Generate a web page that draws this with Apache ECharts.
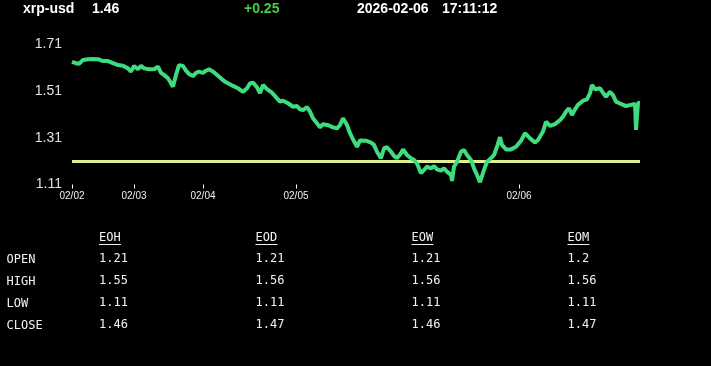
<!DOCTYPE html>
<html>
<head>
<meta charset="utf-8">
<script src="https://cdn.jsdelivr.net/npm/echarts@6/dist/echarts.min.js"></script>
<style>
html,body{margin:0;padding:0;background:#000;}
#chart{width:711px;height:366px;}
</style>
</head>
<body>
<div id="chart"></div>
<script>
// ---- header ----
var symbolName = 'xrp-usd';
var lastPrice = '1.46';
var changeText = '+0.25';
var dateText = '2026-02-06';
var timeText = '17:11:12';

// ---- x axis (sample index) and day labels ----
var dayLabels = ['02/02', '02/03', '02/04', '02/05', '02/06'];
var dayStarts = [0, 62, 131, 224, 447];
var lastSample = 568;

// ---- y axis ticks ----
var yTicks = [1.11, 1.31, 1.51, 1.71];

// ---- price series ----
var sampleX = [0,4,7,11,16,21,26,31,36,41,46,51,56,59,62,66,69,72,77,82,86,89,92,96,99,101,104,107,111,114,117,121,124,127,131,134,137,141,144,146,150,153,156,161,166,171,175,178,181,185,188,191,195,200,205,208,211,216,221,225,228,231,235,238,241,245,248,251,255,258,261,265,268,271,275,278,281,285,288,294,299,302,305,309,312,315,319,322,325,329,331,335,339,342,345,349,352,355,359,362,365,369,372,375,379,380,382,385,389,392,395,399,402,405,408,412,415,419,422,425,428,430,434,439,444,449,453,458,463,466,471,474,478,483,488,491,494,497,500,503,506,511,515,518,520,523,528,531,534,538,541,544,549,554,559,563,564,566,568];
var price = [1.634,1.628,1.625,1.642,1.645,1.646,1.645,1.637,1.637,1.628,1.620,1.617,1.606,1.592,1.616,1.602,1.617,1.606,1.602,1.602,1.613,1.587,1.578,1.564,1.542,1.528,1.578,1.620,1.616,1.596,1.582,1.573,1.587,1.592,1.587,1.596,1.602,1.592,1.582,1.578,1.559,1.549,1.542,1.531,1.521,1.506,1.521,1.542,1.545,1.525,1.500,1.535,1.517,1.502,1.478,1.464,1.468,1.457,1.442,1.445,1.431,1.428,1.440,1.421,1.393,1.371,1.354,1.368,1.364,1.360,1.354,1.350,1.364,1.393,1.364,1.329,1.303,1.271,1.298,1.297,1.289,1.279,1.250,1.222,1.265,1.269,1.250,1.232,1.222,1.243,1.260,1.236,1.222,1.215,1.200,1.158,1.172,1.186,1.179,1.189,1.175,1.169,1.179,1.165,1.151,1.125,1.186,1.207,1.250,1.257,1.236,1.215,1.179,1.151,1.120,1.172,1.207,1.222,1.236,1.271,1.312,1.279,1.260,1.260,1.271,1.297,1.329,1.307,1.289,1.300,1.336,1.378,1.360,1.368,1.385,1.400,1.421,1.435,1.407,1.431,1.450,1.468,1.474,1.500,1.535,1.517,1.521,1.502,1.485,1.506,1.492,1.464,1.454,1.445,1.450,1.454,1.343,1.459,1.458];

// ---- reference (open) line ----
var openLevel = 1.21;

// ---- table ----
var rowLabels = ['OPEN', 'HIGH', 'LOW', 'CLOSE'];
var colHeaders = ['EOH', 'EOD', 'EOW', 'EOM'];
var eohValues = ['1.21', '1.55', '1.11', '1.46'];
var eodValues = ['1.21', '1.56', '1.11', '1.47'];
var eowValues = ['1.21', '1.56', '1.11', '1.46'];
var eomValues = ['1.2', '1.56', '1.11', '1.47'];
var colValues = [eohValues, eodValues, eowValues, eomValues];

var lineData = sampleX.map(function (x, i) { return [x, price[i]]; });

var headFont = 'bold 14px "Liberation Sans", Arial, sans-serif';
var monoFont = '12px "DejaVu Sans Mono", "Liberation Mono", monospace';

var graphics = [
  {type: 'text', x: 23, y: 9.5, style: {text: symbolName, fill: '#ffffff', font: headFont, verticalAlign: 'middle'}},
  {type: 'text', x: 92, y: 9.5, style: {text: lastPrice, fill: '#ffffff', font: headFont, verticalAlign: 'middle'}},
  {type: 'text', x: 244, y: 9.5, style: {text: changeText, fill: '#3fcf3f', font: headFont, verticalAlign: 'middle'}},
  {type: 'text', x: 357, y: 9.5, style: {text: dateText, fill: '#ffffff', font: headFont, verticalAlign: 'middle'}},
  {type: 'text', x: 442, y: 9.5, style: {text: timeText, fill: '#ffffff', font: headFont, verticalAlign: 'middle'}}
];

var colX = [99, 255.5, 411.5, 567.5];
var rowY = [259, 280.5, 302.5, 324.5];
var textColor = '#f2f2f2';

rowLabels.forEach(function (lab, r) {
  graphics.push({type: 'text', x: 6.5, y: rowY[r] + 1, style: {text: lab, fill: textColor, font: monoFont, verticalAlign: 'middle'}});
});
colHeaders.forEach(function (h, c) {
  graphics.push({type: 'text', x: colX[c], y: 238, style: {text: h, fill: textColor, font: monoFont, verticalAlign: 'middle'}});
  graphics.push({type: 'line', shape: {x1: colX[c], y1: 244.5, x2: colX[c] + h.length * 7.3, y2: 244.5}, style: {stroke: textColor, lineWidth: 1}});
  colValues[c].forEach(function (v, r) {
    graphics.push({type: 'text', x: colX[c], y: rowY[r], style: {text: v, fill: textColor, font: monoFont, verticalAlign: 'middle'}});
  });
});

var chart = echarts.init(document.getElementById('chart'), null, {renderer: 'canvas'});
chart.setOption({
  backgroundColor: '#000000',
  animation: false,
  grid: {left: 72, right: 71, top: 44, bottom: 181.5, containLabel: false},
  xAxis: {
    type: 'value',
    min: 0,
    max: lastSample,
    axisLine: {show: false},
    splitLine: {show: false},
    axisTick: {show: true, customValues: dayStarts, length: 4, lineStyle: {color: '#ffffff', width: 1}},
    axisLabel: {
      show: true,
      customValues: dayStarts,
      margin: 7,
      color: '#f0f0f0',
      fontSize: 10,
      fontFamily: '"Liberation Sans", Arial, sans-serif',
      formatter: function (v) {
        var i = dayStarts.indexOf(v);
        return i >= 0 ? dayLabels[i] : '';
      }
    }
  },
  yAxis: {
    type: 'value',
    min: yTicks[0],
    max: yTicks[yTicks.length - 1],
    axisLine: {show: false},
    axisTick: {show: false},
    splitLine: {show: false},
    axisLabel: {
      customValues: yTicks,
      margin: 10,
      color: '#e0e0e0',
      fontSize: 14,
      fontFamily: '"Liberation Sans", Arial, sans-serif',
      formatter: function (v) { return Number(v).toFixed(2); }
    }
  },
  series: [{
    type: 'line',
    data: lineData,
    showSymbol: false,
    symbol: 'none',
    lineStyle: {color: '#3fdc7f', width: 4},
    z: 3,
    markLine: {
      silent: true,
      symbol: ['none', 'none'],
      label: {show: false},
      lineStyle: {color: '#e2ee90', width: 3, type: 'solid'},
      data: [{yAxis: openLevel}],
      z: 2
    }
  }],
  graphic: graphics
});
</script>
</body>
</html>
